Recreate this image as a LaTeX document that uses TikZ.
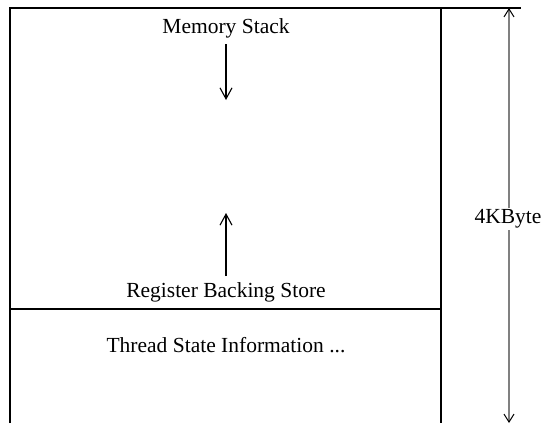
\documentclass[tikz,border=0pt]{standalone}
\usepackage{fontspec}
\setmainfont{Liberation Serif}
\usetikzlibrary{arrows.meta}
\begin{document}
\begin{tikzpicture}[x=1pt,y=-1pt,
  box/.style={line width=1.3pt},
  lbl/.style={font=\fontsize{21.5}{24}\selectfont, inner sep=0pt},
  flow/.style={line width=1.1pt, -{Straight Barb[length=11pt,width=12pt,line width=1.1pt]}},
  dim/.style={gray, line width=1.1pt, {Straight Barb[length=8pt,width=10pt,black,line width=1pt]}-{Straight Barb[length=8pt,width=10pt,black,line width=1pt]}}]
\useasboundingbox (0,0) rectangle (545,423);
\coordinate (tl) at (10,8);
\coordinate (tr) at (441,8);
\coordinate (bl) at (10,423);
\coordinate (br) at (441,423);
\coordinate (ml) at (10,309);
\coordinate (mr) at (441,309);
\coordinate (ext) at (521,8);
\coordinate (dtop) at (509,8);
\coordinate (dbot) at (509,423);
\draw[box] (bl) -- (tl) -- (ext);
\draw[box] (tr) -- (br);
\draw[box] (ml) -- (mr);
\node[lbl] (ms) at (226,28) {Memory Stack};
\node[lbl] (rbs) at (226,292) {Register Backing Store};
\node[lbl] (tsi) at (226,345) {Thread State Information ...};
\coordinate (a1s) at (226,44);
\coordinate (a1e) at (226,100);
\coordinate (a2s) at (226,276);
\coordinate (a2e) at (226,213);
\draw[flow] (a1s) -- (a1e);
\draw[flow] (a2s) -- (a2e);
\draw[dim] (dtop) -- (dbot);
\node[lbl, fill=white, inner sep=2pt] (kb) at (508,219) {4KByte};
\end{tikzpicture}
\end{document}
